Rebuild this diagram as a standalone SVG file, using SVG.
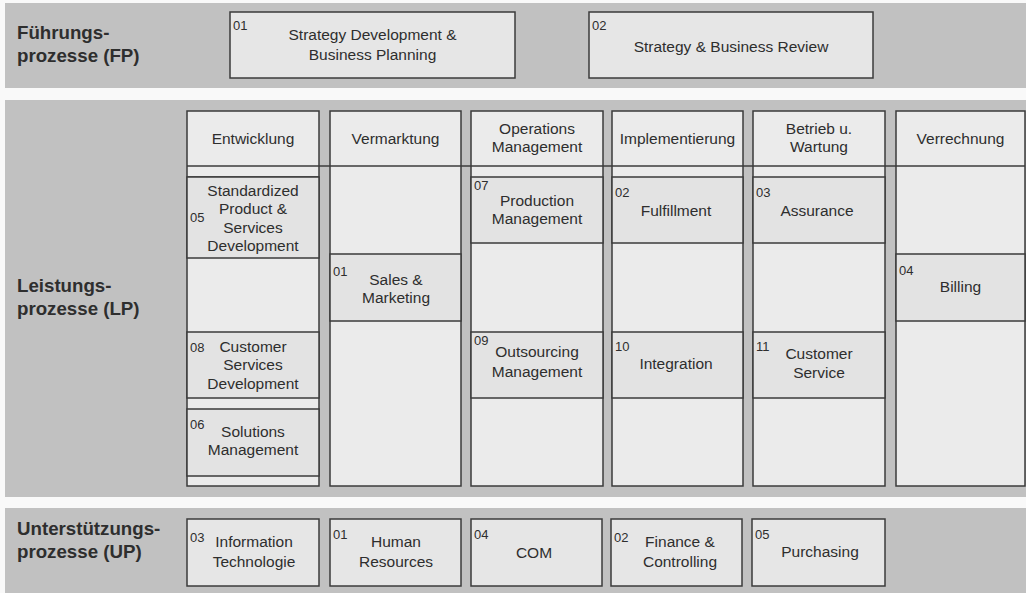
<svg xmlns="http://www.w3.org/2000/svg" width="1026" height="593" viewBox="0 0 1026 593">
  <style>
    .bg { fill: #f9f9f9; }
    .band { fill: #c1c1c1; }
    .box { fill: #e6e6e6; stroke: #3b3b3b; stroke-width: 1.5; }
    .col { fill: #ebebeb; stroke: #3b3b3b; stroke-width: 1.5; }
    .proc { fill: #e3e3e3; stroke: #3b3b3b; stroke-width: 1.5; }
    .rule { stroke: #3b3b3b; stroke-width: 1.5; fill: none; }
    .lbl { font-family: "Liberation Sans", Arial, sans-serif; font-weight: bold; font-size: 18.7px; fill: #2e2e2e; }
    .t { font-family: "Liberation Sans", Arial, sans-serif; font-size: 15.5px; fill: #2e2e2e; text-anchor: middle; }
    .n { font-family: "Liberation Sans", Arial, sans-serif; font-size: 13px; fill: #2e2e2e; }
  </style>

  <rect class="bg" x="0" y="0" width="1026" height="593"/>

  <!-- Swimlane bands -->
  <g id="band-fp">
    <rect class="band" x="5" y="3" width="1021" height="85"/>
    <text class="lbl" x="17" y="39">Führungs-</text>
    <text class="lbl" x="17" y="62">prozesse (FP)</text>
  </g>
  <g id="band-lp">
    <rect class="band" x="5" y="100" width="1021" height="397"/>
    <text class="lbl" x="17" y="292">Leistungs-</text>
    <text class="lbl" x="17" y="315">prozesse (LP)</text>
  </g>
  <g id="band-up">
    <rect class="band" x="5" y="508" width="1021" height="85"/>
    <text class="lbl" x="17" y="535">Unterstützungs-</text>
    <text class="lbl" x="17" y="558">prozesse (UP)</text>
  </g>

  <!-- Führungsprozesse -->
  <g id="fp-01">
    <rect class="box" x="230" y="12" width="285" height="66"/>
    <text class="n" x="233" y="30">01</text>
    <text class="t" x="372.5" y="40">Strategy Development &amp;</text>
    <text class="t" x="372.5" y="60">Business Planning</text>
  </g>
  <g id="fp-02">
    <rect class="box" x="589" y="12" width="284" height="66"/>
    <text class="n" x="592" y="30">02</text>
    <text class="t" x="731" y="52">Strategy &amp; Business Review</text>
  </g>

  <!-- Leistungsprozesse: columns -->
  <g id="col-entwicklung">
    <rect class="col" x="187" y="111" width="132" height="375"/>
    <text class="t" x="253" y="144">Entwicklung</text>
    <line class="rule" x1="187" y1="177" x2="319" y2="177"/>
  </g>
  <g id="col-vermarktung">
    <rect class="col" x="330" y="111" width="131" height="375"/>
    <text class="t" x="395.5" y="144">Vermarktung</text>
  </g>
  <g id="col-operations">
    <rect class="col" x="471" y="111" width="132" height="375"/>
    <text class="t" x="537" y="133.5">Operations</text>
    <text class="t" x="537" y="151.5">Management</text>
  </g>
  <g id="col-implementierung">
    <rect class="col" x="612" y="111" width="131" height="375"/>
    <text class="t" x="677.5" y="144">Implementierung</text>
  </g>
  <g id="col-betrieb">
    <rect class="col" x="753" y="111" width="132" height="375"/>
    <text class="t" x="819" y="133.5">Betrieb u.</text>
    <text class="t" x="819" y="151.5">Wartung</text>
  </g>
  <g id="col-verrechnung">
    <rect class="col" x="896" y="111" width="129" height="375"/>
    <text class="t" x="960.5" y="144">Verrechnung</text>
  </g>
  <line id="header-rule" class="rule" x1="187" y1="166" x2="1025" y2="166"/>

  <!-- Leistungsprozesse: process cells -->
  <g id="lp-05">
    <rect class="proc" x="187" y="177" width="132" height="81"/>
    <text class="n" x="190" y="222">05</text>
    <text class="t" x="253" y="195.5">Standardized</text>
    <text class="t" x="253" y="214">Product &amp;</text>
    <text class="t" x="253" y="232.5">Services</text>
    <text class="t" x="253" y="251">Development</text>
  </g>
  <g id="lp-08">
    <rect class="proc" x="187" y="332" width="132" height="66"/>
    <text class="n" x="190" y="351.5">08</text>
    <text class="t" x="253" y="351.5">Customer</text>
    <text class="t" x="253" y="370">Services</text>
    <text class="t" x="253" y="388.5">Development</text>
  </g>
  <g id="lp-06">
    <rect class="proc" x="187" y="409" width="132" height="67"/>
    <text class="n" x="190" y="429">06</text>
    <text class="t" x="253" y="437">Solutions</text>
    <text class="t" x="253" y="455">Management</text>
  </g>
  <g id="lp-01">
    <rect class="proc" x="330" y="254" width="131" height="67"/>
    <text class="n" x="333" y="276">01</text>
    <text class="t" x="396" y="285">Sales &amp;</text>
    <text class="t" x="396" y="303">Marketing</text>
  </g>
  <g id="lp-07">
    <rect class="proc" x="471" y="177" width="132" height="66"/>
    <text class="n" x="474" y="190">07</text>
    <text class="t" x="537" y="205.5">Production</text>
    <text class="t" x="537" y="223.5">Management</text>
  </g>
  <g id="lp-09">
    <rect class="proc" x="471" y="332" width="132" height="66"/>
    <text class="n" x="474" y="345">09</text>
    <text class="t" x="537" y="357">Outsourcing</text>
    <text class="t" x="537" y="377">Management</text>
  </g>
  <g id="lp-02">
    <rect class="proc" x="612" y="177" width="131" height="66"/>
    <text class="n" x="615" y="197">02</text>
    <text class="t" x="676" y="215.5">Fulfillment</text>
  </g>
  <g id="lp-10">
    <rect class="proc" x="612" y="332" width="131" height="66"/>
    <text class="n" x="615" y="351">10</text>
    <text class="t" x="676" y="369">Integration</text>
  </g>
  <g id="lp-03">
    <rect class="proc" x="753" y="177" width="132" height="66"/>
    <text class="n" x="756" y="197">03</text>
    <text class="t" x="817" y="215.5">Assurance</text>
  </g>
  <g id="lp-11">
    <rect class="proc" x="753" y="332" width="132" height="66"/>
    <text class="n" x="756" y="351">11</text>
    <text class="t" x="819" y="359">Customer</text>
    <text class="t" x="819" y="378">Service</text>
  </g>
  <g id="lp-04">
    <rect class="proc" x="896" y="254" width="129" height="67"/>
    <text class="n" x="899" y="275">04</text>
    <text class="t" x="960.5" y="292">Billing</text>
  </g>

  <!-- Unterstützungsprozesse -->
  <g id="up-03">
    <rect class="box" x="187" y="519" width="132" height="67"/>
    <text class="n" x="190" y="542">03</text>
    <text class="t" x="254" y="547">Information</text>
    <text class="t" x="254" y="567">Technologie</text>
  </g>
  <g id="up-01">
    <rect class="box" x="330" y="519" width="131" height="67"/>
    <text class="n" x="333" y="539">01</text>
    <text class="t" x="396" y="547">Human</text>
    <text class="t" x="396" y="567">Resources</text>
  </g>
  <g id="up-04">
    <rect class="box" x="471" y="519" width="131" height="67"/>
    <text class="n" x="474" y="539">04</text>
    <text class="t" x="534" y="558">COM</text>
  </g>
  <g id="up-02">
    <rect class="box" x="611" y="519" width="131" height="67"/>
    <text class="n" x="614" y="542">02</text>
    <text class="t" x="680" y="547">Finance &amp;</text>
    <text class="t" x="680" y="567">Controlling</text>
  </g>
  <g id="up-05">
    <rect class="box" x="752" y="519" width="133" height="67"/>
    <text class="n" x="755" y="539">05</text>
    <text class="t" x="820" y="557">Purchasing</text>
  </g>
</svg>
